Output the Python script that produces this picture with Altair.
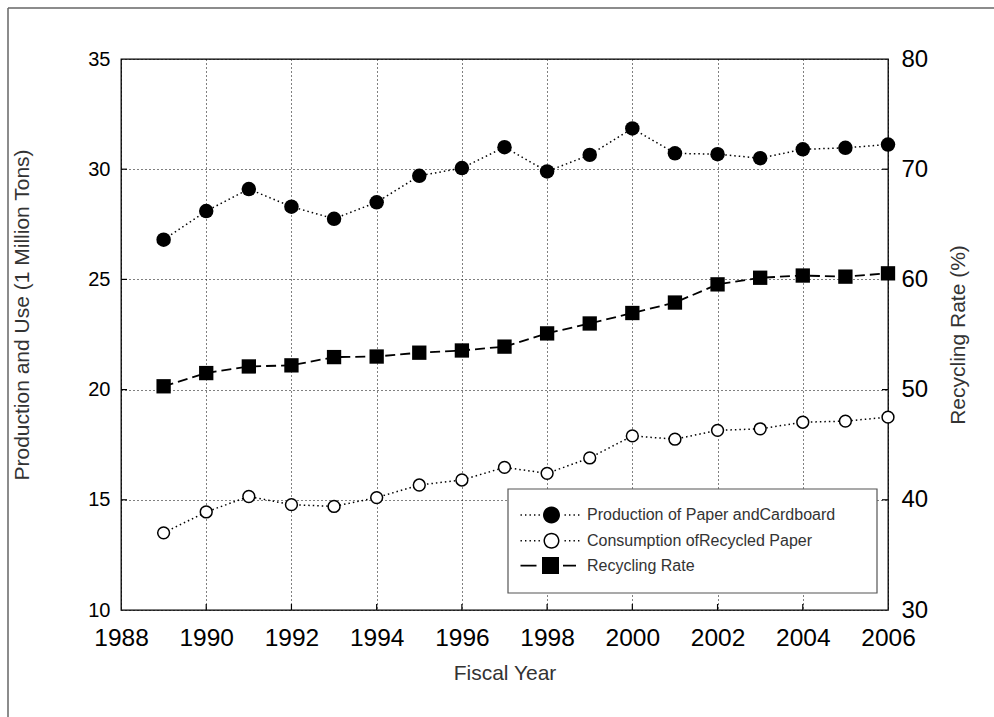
import altair as alt
import pandas as pd

# ---- data -------------------------------------------------------------
years = list(range(1989, 2007))
production = [26.8, 28.1, 29.1, 28.3, 27.75, 28.5, 29.7, 30.05, 31.0, 29.9,
              30.65, 31.85, 30.72, 30.68, 30.5, 30.9, 30.97, 31.12]
consumption = [13.5, 14.45, 15.15, 14.78, 14.7, 15.1, 15.67, 15.9, 16.47, 16.2,
               16.9, 17.9, 17.75, 18.15, 18.22, 18.52, 18.57, 18.75]
recycling_rate = [50.3, 51.5, 52.1, 52.2, 52.95, 53.0, 53.35, 53.55, 53.9, 55.1,
                  56.0, 56.95, 57.9, 59.55, 60.15, 60.35, 60.25, 60.55]

series_names = ["Production of Paper andCardboard",
                "Consumption ofRecycled Paper",
                "Recycling Rate"]

x_ticks = list(range(1988, 2007, 2))
left_ticks = [10, 15, 20, 25, 30, 35]
right_ticks = [30, 40, 50, 60, 70, 80]

FONT = "Liberation Sans"
W, H = 767, 551
TITLE_SIZE = 21

df = pd.DataFrame({"year": years, "production": production,
                   "consumption": consumption, "rate": recycling_rate})
one = pd.DataFrame({"k": [0]})

# ---- legend symbols: dotted/dashed line segment with marker -----------
def _u(px):
    # pixel offset from the entry's left edge -> symbol path units (size 400 -> 10px/unit)
    return (px - 10) / 10.0

def _dots(positions):
    out = []
    for p in positions:
        out.append(f"M{_u(p):.3f},-0.07h0.14v0.14h-0.14Z")
    return "".join(out)

def _circle(cx, r, sweep=1):
    a, b = _u(cx) - r, _u(cx) + r
    return (f"M{a:.3f},0A{r},{r} 0 1,{sweep} {b:.3f},0"
            f"A{r},{r} 0 1,{sweep} {a:.3f},0Z")

left_dots = [0, 4.5, 9, 13.5, 18]
right_dots = [44, 48.5, 53, 57.5]
path_filled = _dots(left_dots) + _circle(31, 0.85) + _dots(right_dots)
path_open = (_dots(left_dots) + _circle(31, 0.8, 1) + _circle(31, 0.65, 0)
             + _dots(right_dots))
path_square = (f"M{_u(0):.3f},-0.08h1.6v0.16h-1.6Z"
               f"M{_u(21.5):.3f},-0.85h1.7v1.7h-1.7Z"
               f"M{_u(42.5):.3f},-0.08h1.3v0.16h-1.3Z")
legend_paths = [path_filled, path_open, path_square]

# ---- scales / axes ----------------------------------------------------
x_axis = alt.Axis(values=x_ticks, format="d", grid=True, gridColor="black",
                  gridDash=[1, 3], gridWidth=1, gridOpacity=1, ticks=False,
                  domain=False, labelFontSize=24.5, labelColor="black",
                  labelPadding=16, labelFlush=False, labelOverlap=False,
                  labelFont=FONT, title="Fiscal Year", titleFont=FONT,
                  titleFontSize=TITLE_SIZE, titleFontWeight="normal",
                  titleColor="#333", titleX=W / 2, titleY=63,
                  titleAlign="center", titleBaseline="middle")
x_scale = alt.Scale(domain=[1988, 2006], nice=False, zero=False)

left_axis = alt.Axis(values=left_ticks, grid=True, gridColor="black",
                     gridDash=[1, 3], gridWidth=1, gridOpacity=1, ticks=False,
                     domain=False, labelFontSize=20, labelColor="black",
                     labelPadding=11, labelFlush=False, labelOverlap=False,
                     labelFont=FONT, title="Production and Use (1 Million Tons)",
                     titleFont=FONT, titleFontSize=TITLE_SIZE,
                     titleFontWeight="normal", titleColor="#333",
                     titleAngle=270, titleX=-99, titleY=H / 2 - 20,
                     titleAlign="center", titleBaseline="middle", orient="left")
left_scale = alt.Scale(domain=[10, 35], nice=False, zero=False)

right_axis = alt.Axis(values=right_ticks, grid=False, ticks=False, domain=False,
                      labelFontSize=24, labelColor="black", labelPadding=13,
                      labelFlush=False, labelOverlap=False, labelFont=FONT,
                      title="Recycling Rate (%)", titleFont=FONT,
                      titleFontSize=TITLE_SIZE, titleFontWeight="normal",
                      titleColor="#333", titleAngle=270, titleX=70,
                      titleY=H / 2, titleAlign="center", titleBaseline="middle",
                      orient="right")
right_scale = alt.Scale(domain=[30, 80], nice=False, zero=False)


def X(field):
    return alt.X(f"{field}:Q", scale=x_scale, axis=x_axis)


def YL(field):
    return alt.Y(f"{field}:Q", scale=left_scale, axis=left_axis)


def YR(field):
    return alt.Y(f"{field}:Q", scale=right_scale, axis=right_axis)


# ---- page frame ---------------------------------------------------------
frame_left = alt.Chart(one).mark_rule(color="#666", strokeWidth=1.5).encode(
    x=alt.value(-113), y=alt.value(-51), y2=alt.value(717 - 59))
frame_top = alt.Chart(one).mark_rule(color="#666", strokeWidth=1.5).encode(
    y=alt.value(-51), x=alt.value(-113), x2=alt.value(994 - 121))

# ---- inward tick marks --------------------------------------------------
bottom_ticks = alt.Chart(pd.DataFrame({"t": x_ticks[1:-1]})).mark_rule(
    color="black", strokeWidth=1.2).encode(
    x=X("t"), y=alt.value(H), y2=alt.value(H - 6))
left_tick_marks = alt.Chart(pd.DataFrame({"t": left_ticks[1:-1]})).mark_rule(
    color="black", strokeWidth=1.2).encode(
    y=YL("t"), x=alt.value(0), x2=alt.value(6))
right_tick_marks = alt.Chart(pd.DataFrame({"t": right_ticks[1:-1]})).mark_rule(
    color="black", strokeWidth=1.2).encode(
    y=YR("t"), x=alt.value(W), x2=alt.value(W - 6))

# ---- series -------------------------------------------------------------
base = alt.Chart(df)
prod_line = base.mark_line(color="black", strokeWidth=1.5,
                           strokeDash=[1.5, 3]).encode(x=X("year"), y=YL("production"))
prod_pts = base.mark_point(shape="circle", filled=True, color="black",
                           size=210, opacity=1).encode(x=X("year"), y=YL("production"))
cons_line = base.mark_line(color="black", strokeWidth=1.5,
                           strokeDash=[1.5, 3]).encode(x=X("year"), y=YL("consumption"))
cons_pts = base.mark_point(shape="circle", filled=True, fill="white",
                           stroke="black", strokeWidth=1.5, size=140,
                           opacity=1).encode(x=X("year"), y=YL("consumption"))
rate_line = base.mark_line(color="black", strokeWidth=1.8,
                           strokeDash=[10, 5]).encode(x=X("year"), y=YR("rate"))
rate_pts = base.mark_point(shape="square", filled=True, color="black",
                           size=205, opacity=1).encode(x=X("year"), y=YR("rate"))

# ---- legend ---------------------------------------------------------------
legend_box = alt.Chart(one).mark_rect(fill="white", stroke="#555",
                                      strokeWidth=1.2).encode(
    x=alt.value(387), x2=alt.value(756), y=alt.value(430), y2=alt.value(534))
legend_layer = alt.Chart(pd.DataFrame({"series": series_names})).transform_filter(
    "false").mark_point(filled=True, color="black", opacity=1).encode(
    shape=alt.Shape("series:N",
                    scale=alt.Scale(domain=series_names, range=legend_paths),
                    legend=alt.Legend(title=None, orient="none", legendX=399.5,
                                      legendY=446, padding=0, rowPadding=6.8,
                                      symbolSize=400, symbolFillColor="black",
                                      symbolStrokeWidth=0, symbolOpacity=1,
                                      labelFont=FONT, labelFontSize=16,
                                      labelColor="#333", labelLimit=500,
                                      labelOffset=46.5)))

left_group = alt.layer(frame_left, frame_top, prod_line, cons_line, prod_pts,
                       cons_pts, bottom_ticks, left_tick_marks)
right_group = alt.layer(rate_line, rate_pts, right_tick_marks, legend_box,
                        legend_layer)

chart = alt.layer(left_group, right_group).resolve_scale(
    y="independent"
).properties(
    width=W, height=H,
    autosize=alt.AutoSizeParams(type="none"),
    padding={"left": 121, "top": 59, "right": 106, "bottom": 107},
    background="white",
).configure_view(stroke="black", strokeWidth=1.3)

chart.save("out.html", embed_options={"renderer": "svg", "actions": False})
